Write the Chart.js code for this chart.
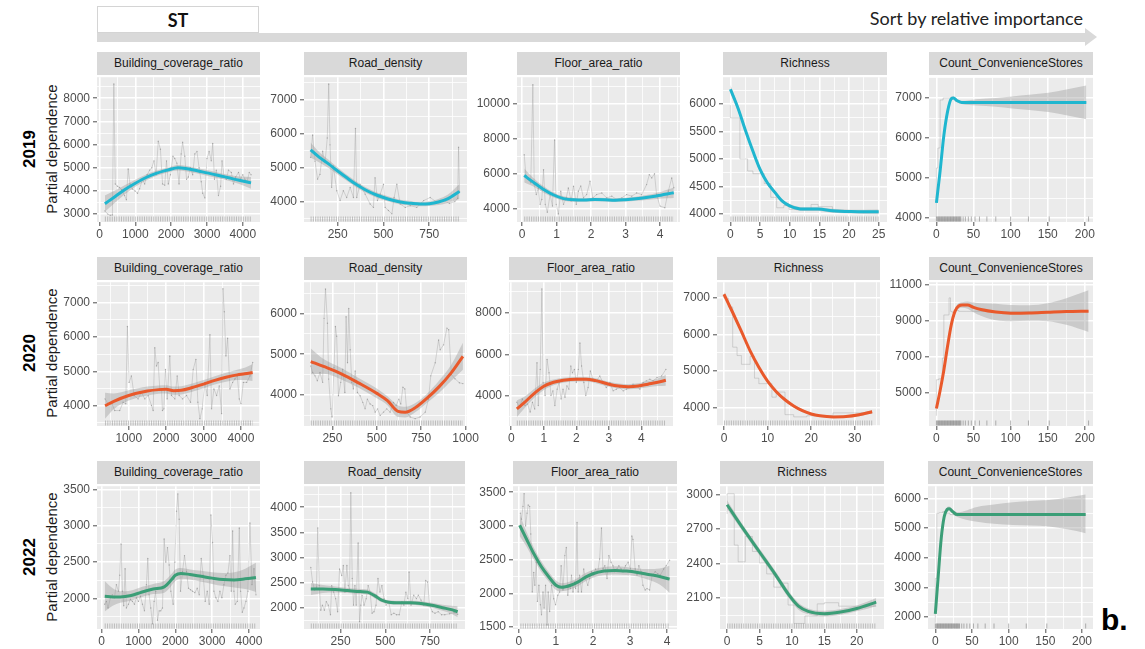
<!DOCTYPE html>
<html>
<head>
<meta charset="utf-8">
<script src="https://cdn.jsdelivr.net/npm/chart.js@4.4.1/dist/chart.umd.min.js"></script>
<style>
  body { margin: 0; background: #fff; width: 1145px; height: 649px; position: relative; overflow: hidden;
         font-family: "Liberation Sans", Arial, sans-serif; }
  .strip { position: absolute; height: 23px; line-height: 23px; background: #D9D9D9; color: #1A1A1A;
           font-size: 12px; text-align: center; white-space: nowrap; overflow: hidden; }
  .rot { position: absolute; transform: rotate(-90deg); text-align: center; white-space: nowrap; }
  .panel { position: absolute; }
</style>
</head>
<body>
<div style="position:absolute;left:97px;top:33px;width:988px;height:9px;background:#D9D9D9"></div>
<div style="position:absolute;left:1085px;top:28px;width:0;height:0;border-left:12px solid #D9D9D9;border-top:9.5px solid transparent;border-bottom:9.5px solid transparent"></div>
<div style="position:absolute;left:97px;top:6px;width:160px;height:25px;border:1px solid #D4D4D4;background:#fff;text-align:center;line-height:26px;font-family:Lato,sans-serif;font-weight:bold;font-size:18px;color:#111">ST</div>
<div style="position:absolute;right:62px;top:7px;font-family:Lato,sans-serif;font-size:18px;color:#222">Sort by relative importance</div>
<div style="position:absolute;left:1101px;top:603px;font-weight:bold;font-size:30px;color:#000">b.</div>

<script>
// ---- 데이터 : 원시 PD 선 [x, y], 평활선 [x, 하한, 적합, 상한] ----
const years = ["2019", "2020", "2022"];
const variables = ["Building_coverage_ratio", "Road_density", "Floor_area_ratio", "Richness", "Count_ConvenienceStores"];
const lineColors = ["#1FB6CF", "#E9592B", "#3B9E77"];

// 2019
const bcr19Raw = [[150,3140],[230,3000],[300,2950],[360,2960],[400,8620],[440,4300],[500,4200],[560,4150],[620,4050],[700,3800],
  [750,3620],[800,4950],[850,4300],[920,4080],[990,4000],[1060,3900],[1120,4100],[1200,4500],[1260,4300],[1330,4700],
  [1400,4900],[1460,5000],[1520,5300],[1580,4700],[1640,6150],[1700,5800],[1760,4300],[1820,4250],[1870,5300],[1920,4300],
  [1980,4700],[2050,5500],[2100,5400],[2160,5200],[2220,4300],[2280,5600],[2320,6100],[2380,5500],[2430,4500],[2480,4600],
  [2540,5000],[2600,4700],[2660,5600],[2720,5700],[2780,5000],[2840,4400],[2880,3900],[2940,3700],[3000,5400],[3060,5700],
  [3120,5300],[3160,6050],[3210,4500],[3260,4900],[3320,3800],[3380,4200],[3420,5300],[3480,4600],[3540,4500],[3600,4900],
  [3680,4800],[3740,4300],[3800,4600],[3880,4800],[3940,4500],[4000,4700],[4060,4500],[4120,4400],[4180,4800],[4230,4700]];
const bcr19Fit = [[150,3100,3450,3800],[400,3450,3720,4000],[700,3850,4050,4250],[1000,4180,4330,4480],[1300,4450,4580,4710],
  [1600,4660,4770,4880],[1900,4800,4900,5000],[2200,4880,5000,5120],[2400,4850,4970,5090],[2700,4760,4880,5000],
  [3000,4660,4780,4900],[3300,4560,4680,4800],[3600,4440,4570,4700],[3900,4300,4460,4620],[4230,4100,4350,4600]];
const road19Raw = [[102,5300],[113,5960],[126,5190],[140,4660],[153,4800],[168,5480],[181,5140],[193,5870],[201,7460],[208,5670],
  [217,4420],[226,5050],[245,4320],[263,4030],[281,4320],[299,4120],[318,4420],[336,4120],[347,6150],[354,4120],
  [372,4510],[400,4220],[427,3930],[445,3830],[454,4700],[467,4030],[482,4220],[500,4510],[509,3830],[527,3740],
  [546,3640],[558,4120],[573,4510],[591,3930],[619,3830],[646,3880],[682,3830],[719,4030],[755,4120],[792,3980],
  [828,4030],[860,3950],[890,4000],[905,4100],[910,5600],[915,4300]];
const road19Fit = [[102,5300,5520,5740],[150,5150,5300,5450],[200,4990,5110,5230],[250,4800,4900,5000],[300,4610,4700,4790],
  [350,4420,4510,4600],[400,4270,4350,4430],[450,4140,4220,4300],[500,4040,4120,4200],[550,3970,4040,4110],
  [600,3910,3980,4050],[650,3880,3950,4020],[700,3860,3930,4000],[750,3870,3940,4010],[800,3900,3990,4080],
  [850,3960,4080,4200],[915,4080,4300,4520]];
const far19Raw = [[0.06,7090],[0.11,5860],[0.18,5670],[0.25,5480],[0.31,11100],[0.35,5380],[0.41,4810],[0.47,5190],[0.52,4250],[0.57,4530],
  [0.62,6230],[0.67,4250],[0.73,3800],[0.81,4810],[0.88,4150],[0.94,7940],[0.99,4250],[1.05,3700],[1.12,5000],[1.2,4250],
  [1.28,4620],[1.34,5190],[1.42,4440],[1.49,5290],[1.57,4250],[1.63,5000],[1.7,5300],[1.78,4620],[1.87,4810],[1.97,5570],
  [2.05,4620],[2.16,4810],[2.31,4900],[2.45,4620],[2.6,4720],[2.74,4530],[2.89,4620],[3.03,4810],[3.18,4720],[3.32,4900],
  [3.47,4810],[3.61,5380],[3.69,5950],[3.76,5760],[3.84,6000],[3.9,4810],[4.0,4150],[4.14,4060],[4.24,5000],[4.34,5760],[4.4,5200]];
const far19Fit = [[0.06,5500,5900,6300],[0.3,5300,5550,5800],[0.6,4950,5130,5310],[0.9,4650,4800,4950],[1.2,4450,4580,4710],
  [1.5,4400,4510,4620],[1.8,4400,4500,4600],[2.1,4430,4530,4630],[2.4,4420,4520,4620],[2.7,4390,4490,4590],
  [3.0,4410,4520,4630],[3.3,4450,4570,4690],[3.6,4500,4640,4780],[3.9,4560,4730,4900],[4.2,4600,4840,5080],[4.4,4620,4920,5220]];
const rich19Raw = [[0,5980],[1.6,5750],[2.9,5000],[3.8,4780],[5.7,4730],[6.8,4550],[7.8,4300],[9,4110],[9.9,4150],
  [13.6,4080],[14.8,4170],[17.2,4130],[18.8,4040],[20.9,4035],[25,4035]];
const rich19Fit = [[0,6190,6270,6350],[1.3,5860,5920,5980],[2.6,5450,5500,5550],[3.8,5100,5140,5180],[5,4770,4810,4850],
  [6.2,4530,4570,4610],[7.5,4350,4390,4430],[8.7,4200,4235,4270],[10,4110,4145,4180],[12.3,4050,4085,4120],
  [14.8,4050,4085,4120],[17.2,4020,4055,4090],[20.3,4005,4040,4075],[25,3990,4035,4080]];
const store19Raw = [[0,4000],[2,5250],[5,5750],[9,6950],[20,7000],[25,6980],[30,6920],[40,6890],[202,6890]];
const store19Fit = [[0,4300,4380,4460],[5,5100,5180,5260],[10,5980,6060,6140],[15,6600,6660,6720],[20,6930,6980,7030],
  [23,6960,7000,7040],[28,6890,6930,6970],[34,6850,6890,6930],[54,6810,6890,6970],[80,6780,6890,7000],
  [102,6740,6890,7040],[125,6700,6890,7080],[151,6650,6890,7130],[175,6570,6890,7210],[202,6470,6890,7310]];

// 2020
const bcr20Raw = [[366,4200],[446,4060],[536,4100],[625,3860],[759,3860],[848,4100],[920,4060],[964,6310],[1009,4680],[1071,4870],
  [1143,4300],[1250,4200],[1339,4390],[1429,4200],[1518,4300],[1607,4010],[1652,3860],[1696,5690],[1741,5160],[1786,5260],
  [1830,4490],[1875,4490],[1902,3860],[1938,3910],[1982,5060],[2027,4200],[2098,5450],[2143,4300],[2232,4200],[2295,4870],
  [2348,4300],[2438,4200],[2545,4300],[2652,4100],[2723,5060],[2795,5350],[2848,4100],[2902,3620],[2964,3910],[3036,4680],
  [3098,4300],[3170,6070],[3214,3910],[3277,4490],[3348,4300],[3420,4580],[3482,3770],[3518,7410],[3554,6740],[3598,5450],
  [3643,5970],[3705,4490],[3777,4680],[3839,4780],[3902,4870],[3955,4200],[4000,4060],[4063,4680],[4152,4680],[4241,4870],[4313,5260]];
const bcr20Fit = [[366,3620,4000,4380],[600,3900,4130,4360],[1000,4150,4300,4450],[1500,4300,4430,4560],[1800,4350,4470,4590],
  [2000,4360,4480,4600],[2200,4320,4440,4560],[2400,4330,4450,4570],[2700,4410,4530,4650],[3000,4510,4630,4750],
  [3300,4620,4740,4860],[3600,4700,4830,4960],[3900,4750,4900,5050],[4100,4750,4930,5110],[4313,4720,4970,5220]];
const road20Raw = [[128,4710],[139,4550],[152,4470],[165,4350],[180,4550],[195,4310],[203,5880],[211,6600],[222,5760],[229,4390],
  [241,3660],[248,3460],[259,4670],[267,5680],[274,5440],[284,3980],[297,4310],[308,4630],[320,4060],[327,5920],
  [335,4790],[342,6120],[350,5110],[359,4310],[368,4150],[378,4590],[391,4060],[406,3980],[421,3820],[434,3660],
  [447,3900],[462,3780],[477,3740],[491,3580],[504,3660],[519,3500],[538,3580],[556,3660],[575,3580],[594,3820],
  [609,3740],[624,3900],[635,3780],[647,4190],[658,4150],[669,3580],[688,3460],[716,3420],[744,3460],[773,3580],
  [791,3900],[804,4470],[829,4790],[848,5350],[857,5110],[876,5230],[895,5640],[905,5600],[920,4500],[940,4400],[965,4300],[985,4280]];
const road20Fit = [[128,4500,4820,5140],[200,4520,4700,4880],[300,4380,4520,4660],[400,4170,4290,4410],[500,3920,4040,4160],
  [560,3750,3860,3970],[620,3460,3600,3740],[660,3450,3580,3710],[720,3590,3700,3810],[780,3800,3910,4020],
  [850,4050,4200,4350],[920,4350,4550,4750],[985,4620,4950,5280]];
const far20Raw = [[0.17,3700],[0.26,3460],[0.34,3860],[0.42,3540],[0.5,3620],[0.58,3230],[0.65,3700],[0.72,3380],[0.79,5600],[0.83,3540],
  [0.89,5280],[0.94,9150],[0.98,4650],[1.04,4020],[1.1,5760],[1.16,5120],[1.22,4020],[1.28,4250],[1.34,3540],[1.41,4330],
  [1.47,4650],[1.53,3860],[1.59,4330],[1.65,3940],[1.71,4490],[1.77,4330],[1.83,5440],[1.88,5120],[1.94,5280],[2.0,4650],
  [2.06,5280],[2.11,6550],[2.16,5440],[2.23,4650],[2.29,4020],[2.36,4410],[2.43,5200],[2.51,4810],[2.62,4730],[2.72,4960],
  [2.82,4650],[2.92,4410],[3.03,4650],[3.13,4250],[3.23,4330],[3.33,4410],[3.44,4250],[3.54,4330],[3.64,4410],[3.74,4570],
  [3.85,4490],[3.95,4330],[4.05,4650],[4.15,4730],[4.26,4810],[4.36,4730],[4.48,4890],[4.62,4960],[4.75,5280]];
const far20Fit = [[0.17,2980,3380,3780],[0.4,3400,3680,3960],[0.7,3900,4120,4340],[1.0,4290,4470,4650],[1.3,4520,4660,4800],
  [1.6,4640,4760,4880],[2.0,4700,4810,4920],[2.3,4700,4810,4920],[2.6,4620,4740,4860],[3.0,4450,4570,4690],
  [3.3,4360,4480,4600],[3.6,4330,4450,4570],[3.9,4350,4480,4610],[4.2,4420,4570,4720],[4.5,4480,4660,4840],[4.75,4500,4760,5020]];
const rich20Raw = [[0,7100],[1,7000],[2,6750],[3,5650],[4,5420],[6,5180],[7,5400],[8,4800],[11,4650],[12,4280],
  [14,4420],[16,3800],[19,3740],[25,3770],[30,3850],[34,3850]];
const rich20Fit = [[0,7040,7100,7160],[2,6550,6600,6650],[4,6030,6080,6130],[6,5510,5550,5590],[8,5060,5100,5140],
  [10,4680,4720,4760],[12,4390,4430,4470],[14,4170,4210,4250],[16,4000,4040,4080],[18,3870,3910,3950],
  [20,3790,3820,3850],[22,3740,3770,3800],[25,3710,3740,3770],[28,3720,3750,3780],[31,3760,3800,3840],[34,3830,3880,3930]];
const store20Raw = [[0,3700],[3,5700],[8,5750],[10,6900],[17,9300],[19,10250],[21,9500],[25,9450],[30,9550],[40,9500],[205,9500]];
const store20Fit = [[0,3900,4100,4300],[5,4900,5100,5300],[10,6050,6230,6410],[15,7400,7560,7720],[20,8600,8750,8900],
  [25,9350,9500,9650],[30,9650,9800,9950],[35,9700,9850,10000],[42,9650,9850,10050],[50,9450,9720,9990],
  [60,9250,9600,9950],[80,9000,9460,9920],[100,8950,9400,9850],[125,8980,9410,9840],[150,8950,9450,9950],
  [175,8750,9490,10230],[205,8350,9510,10670]];

// 2022
const bcr22Raw = [[82,1920],[127,1960],[172,1870],[236,2010],[290,2050],[345,2010],[399,2190],[454,2100],[490,2320],[526,2750],
  [562,2100],[599,1900],[635,2410],[671,1870],[726,1920],[780,1990],[834,1960],[889,1920],[943,2010],[998,1960],
  [1052,2030],[1107,1920],[1161,1830],[1215,2190],[1252,2550],[1288,2050],[1333,1870],[1379,1650],[1424,1960],[1469,2100],
  [1515,1700],[1560,1830],[1605,1830],[1651,1870],[1696,2820],[1741,2500],[1787,2700],[1832,2460],[1878,2100],[1941,1920],
  [1986,2500],[2032,3200],[2068,3440],[2104,3090],[2141,2100],[2195,2370],[2249,2590],[2304,2370],[2358,2140],[2413,2120],
  [2467,2100],[2531,2080],[2594,2140],[2649,2050],[2703,2550],[2757,2320],[2812,1960],[2866,2100],[2921,1920],[2966,3150],
  [3011,2770],[3048,2100],[3102,2010],[3156,1960],[3211,2100],[3265,2010],[3320,2190],[3374,2320],[3429,2350],[3483,2590],
  [3519,2100],[3556,2930],[3592,2100],[3628,1920],[3683,1960],[3737,2970],[3773,2100],[3819,1810],[3864,1870],[3918,1960],
  [3973,2100],[4027,3040],[4082,2190],[4136,2410],[4190,2050]];
const bcr22Fit = [[82,1820,2030,2240],[300,1900,2020,2140],[500,1940,2020,2100],[800,1970,2040,2110],[1100,2020,2090,2160],
  [1400,2060,2130,2200],[1700,2080,2160,2240],[1900,2180,2260,2340],[2000,2240,2320,2400],[2150,2270,2345,2420],
  [2400,2260,2330,2400],[2700,2230,2305,2380],[3000,2200,2280,2360],[3300,2170,2260,2350],[3600,2150,2255,2360],
  [3900,2130,2270,2410],[4190,2090,2290,2490]];
const road22Raw = [[83,2800],[93,2510],[104,2350],[115,2410],[122,3590],[130,2440],[139,1950],[148,2050],[159,1950],[170,2120],
  [181,2050],[193,1860],[200,2440],[211,2310],[222,2180],[233,1920],[244,2770],[256,2640],[265,2840],[274,2310],
  [285,2840],[293,2440],[300,2350],[307,4290],[315,2580],[322,2050],[330,2440],[337,2050],[348,3290],[356,1720],
  [363,2050],[370,2250],[381,2050],[393,2180],[404,2440],[415,2310],[426,1890],[437,1920],[448,2050],[459,2580],
  [470,2310],[481,2440],[493,2180],[504,2050],[519,2120],[533,1860],[548,1890],[563,1860],[578,1860],[593,2120],
  [604,2050],[615,2310],[626,2180],[633,2710],[644,2050],[659,2250],[674,2180],[685,2250],[700,2150],[715,2050],
  [726,2540],[737,2510],[748,2050],[763,1920],[778,1890],[796,1920],[815,1860],[833,1860],[860,1880],[885,1900],[905,1870]];
const road22Fit = [[83,2250,2370,2490],[150,2290,2370,2450],[220,2300,2360,2420],[290,2290,2340,2390],[360,2270,2320,2370],
  [400,2260,2310,2360],[440,2190,2240,2290],[480,2110,2150,2190],[520,2070,2110,2150],[580,2060,2100,2140],
  [640,2060,2100,2140],[700,2040,2085,2130],[760,2000,2050,2100],[820,1940,2000,2060],[870,1880,1960,2040],[905,1810,1920,2030]];
const far22Raw = [[0.04,3190],[0.07,3100],[0.11,3290],[0.14,3480],[0.18,3000],[0.22,3190],[0.25,3310],[0.29,3290],[0.32,2880],[0.36,2020],
  [0.4,2310],[0.43,2120],[0.47,2460],[0.5,1880],[0.54,2120],[0.58,1830],[0.61,1680],[0.65,2020],[0.68,1780],[0.72,2120],
  [0.76,1530],[0.79,2020],[0.83,1730],[0.88,2120],[0.94,1920],[0.99,1830],[1.05,1970],[1.1,2020],[1.14,2410],[1.19,2050],
  [1.24,2560],[1.28,2680],[1.32,1970],[1.35,2120],[1.39,2070],[1.42,2270],[1.46,2020],[1.5,2170],[1.53,2070],[1.57,3050],
  [1.6,2020],[1.64,2270],[1.69,2020],[1.75,2360],[1.8,2220],[1.86,2120],[1.91,2220],[1.96,2320],[2.02,2270],[2.07,2360],
  [2.13,2320],[2.18,2510],[2.23,2970],[2.27,2360],[2.32,2410],[2.38,2220],[2.43,2560],[2.49,2460],[2.54,2410],[2.59,2320],
  [2.65,2360],[2.7,2410],[2.76,2360],[2.81,2320],[2.88,2410],[2.95,2460],[3.01,2360],[3.05,2850],[3.08,2800],[3.14,2360],
  [3.19,2270],[3.24,2410],[3.3,2320],[3.35,2120],[3.41,2050],[3.46,2070],[3.53,2050],[3.6,2270],[3.68,2320],[3.75,2290],
  [3.82,2270],[3.91,2360],[3.98,2410],[4.07,2490]];
const far22Fit = [[0.02,2850,3010,3170],[0.2,2700,2810,2920],[0.4,2500,2590,2680],[0.6,2320,2400,2480],[0.8,2180,2250,2320],
  [1.0,2050,2120,2190],[1.15,2030,2090,2150],[1.4,2060,2120,2180],[1.6,2110,2170,2230],[1.8,2180,2240,2300],
  [2.0,2230,2290,2350],[2.3,2270,2330,2390],[2.6,2280,2340,2400],[2.9,2270,2330,2390],[3.2,2250,2310,2370],
  [3.5,2200,2280,2360],[3.8,2130,2250,2370],[4.07,2010,2210,2410]];
const rich22Raw = [[0,2830],[1.1,3005],[1.7,2560],[2.8,2415],[3.9,2635],[5,2505],[6.1,2405],[7.2,2310],[8.3,2195],[9.4,2230],
  [10.3,2040],[12,1880],[13.9,1945],[15,2050],[17.2,2060],[19.4,2030],[23,2030]];
const rich22Fit = [[0,2870,2910,2950],[2.5,2670,2700,2730],[5,2470,2500,2530],[7.5,2270,2300,2330],[9.5,2100,2130,2160],
  [11,2000,2030,2060],[12.5,1960,1985,2010],[15,1940,1965,1990],[17.5,1955,1980,2005],[20,1985,2010,2035],[23,2030,2065,2100]];
const store22Raw = [[0,1800],[2,3300],[5,5500],[10,5520],[15,5560],[20,5500],[25,5460],[30,5450],[205,5450]];
const store22Fit = [[0,1980,2100,2220],[4,3300,3400,3500],[8,4550,4650,4750],[12,5300,5380,5460],[16,5560,5630,5700],
  [19,5590,5660,5730],[24,5480,5550,5620],[30,5380,5460,5540],[57,5220,5460,5720],[80,5150,5460,5800],
  [106,5110,5460,5880],[130,5090,5460,5920],[155,5060,5460,5950],[180,4960,5460,6040],[205,4830,5460,6140]];

// 편의점 수 rug 위치
const storeRug = [0,1,2,3,4,5,6,7,8,9,10,11,12,13,14,15,16,17,18,19,20,21,22,23,24,25,26,27,28,29,30,31,32,33,
  36,39,43,47,52,58,68,80,100,124,152,205];

// 축 눈금 (주 눈금)
const xTicks = [
  [[0,1000,2000,3000,4000], [250,500,750], [0,1,2,3,4], [0,5,10,15,20,25], [0,50,100,150,200]],
  [[1000,2000,3000,4000], [250,500,750,1000], [0,1,2,3,4], [0,10,20,30], [0,50,100,150,200]],
  [[0,1000,2000,3000,4000], [250,500,750], [0,1,2,3,4], [0,5,10,15,20], [0,50,100,150,200]]
];
const yTicks = [
  [[3000,4000,5000,6000,7000,8000], [4000,5000,6000,7000], [4000,6000,8000,10000], [4000,4500,5000,5500,6000], [4000,5000,6000,7000]],
  [[4000,5000,6000,7000], [4000,5000,6000], [4000,6000,8000], [4000,5000,6000,7000], [5000,7000,9000,11000]],
  [[2000,2500,3000,3500], [2000,2500,3000,3500,4000], [1500,2000,2500,3000,3500], [2100,2400,2700,3000], [2000,3000,4000,5000,6000]]
];
// 축 범위
const xLims = [
  [[-70,4480], [66,956], [-0.15,4.58], [-1.25,26.4], [-10,211]],
  [[151,4509], [90,1008], [-0.07,4.97], [-1.6,35.8], [-10,211]],
  [[-128,4300], [45,946], [-0.16,4.27], [-1.1,24.2], [-10,215]]
];
const yLims = [
  [[2660,8910], [3400,7660], [3240,11530], [3850,6490], [3900,7520]],
  [[3410,7600], [3240,6766], [2560,9470], [3490,7430], [3130,11120]],
  [[1580,3545], [1575,4420], [1470,3590], [1832,3071], [1590,6420]]
];

const rawSets = [
  [bcr19Raw, road19Raw, far19Raw, rich19Raw, store19Raw],
  [bcr20Raw, road20Raw, far20Raw, rich20Raw, store20Raw],
  [bcr22Raw, road22Raw, far22Raw, rich22Raw, store22Raw]
];
const fitSets = [
  [bcr19Fit, road19Fit, far19Fit, rich19Fit, store19Fit],
  [bcr20Fit, road20Fit, far20Fit, rich20Fit, store20Fit],
  [bcr22Fit, road22Fit, far22Fit, rich22Fit, store22Fit]
];

// ---- 배치 ----
const YW = 50, XH = 20, PADT = 8, PADR = 24, STRIP_H = 23;
const rowBox = [[75, 222], [280, 426], [484, 629]];
const colBox = [
  [[97,260],[304,467],[517,680],[723,887],[929,1093]],
  [[97,260],[304,467],[509,673],[717,880],[929,1093]],
  [[97,260],[304,465],[513,677],[720,884],[928,1093]]
];

// 패널 배경
const panelBg = {
  id: "panelBg",
  beforeDraw(chart) {
    const { ctx, chartArea: a } = chart;
    ctx.save();
    ctx.fillStyle = "#EBEBEB";
    ctx.fillRect(a.left, a.top, a.width, a.height);
    ctx.restore();
  }
};

// 아래쪽 rug
const rugPlugin = {
  id: "rug",
  beforeDatasetsDraw(chart, args, opts) {
    const { ctx, chartArea: a } = chart;
    const xs = chart.scales.x;
    ctx.save();
    if (opts.values) {
      ctx.strokeStyle = "rgba(120,120,120,0.7)";
      ctx.lineWidth = 0.8;
      ctx.beginPath();
      opts.values.forEach((v) => {
        const px = xs.getPixelForValue(v);
        ctx.moveTo(px, a.bottom - 0.5);
        ctx.lineTo(px, a.bottom - 5.5);
      });
      ctx.stroke();
    } else {
      const x0 = xs.getPixelForValue(opts.from);
      const x1 = xs.getPixelForValue(opts.to);
      ctx.strokeStyle = "rgba(140,140,140,0.5)";
      ctx.lineWidth = 5;
      ctx.setLineDash([1, 1.3]);
      ctx.beginPath();
      ctx.moveTo(x0, a.bottom - 3);
      ctx.lineTo(x1, a.bottom - 3);
      ctx.stroke();
    }
    ctx.restore();
  }
};

function withMinors(majors, lo, hi) {
  const step = majors[1] - majors[0];
  const out = [];
  if (majors[0] - step / 2 >= lo) out.push(majors[0] - step / 2);
  majors.forEach((m, i) => {
    out.push(m);
    if (i < majors.length - 1) out.push(m + step / 2);
  });
  if (majors[majors.length - 1] + step / 2 <= hi) out.push(majors[majors.length - 1] + step / 2);
  return out;
}

function axisOpts(majors, lim, isX) {
  const all = withMinors(majors, lim[0], lim[1]);
  const isMajor = (v) => majors.some((m) => Math.abs(m - v) < 1e-9);
  return {
    type: "linear",
    min: lim[0],
    max: lim[1],
    bounds: "data",
    afterBuildTicks: (scale) => { scale.ticks = all.map((v) => ({ value: v })); },
    afterFit: (scale) => { if (isX) scale.height = XH; else scale.width = YW; },
    border: { display: false },
    grid: {
      color: "#FFFFFF",
      lineWidth: (c) => (c.tick && isMajor(c.tick.value) ? 1.6 : 0.8),
      drawTicks: true,
      tickLength: 4,
      tickWidth: 1,
      tickColor: (c) => (c.tick && isMajor(c.tick.value) ? "#4D4D4D" : "rgba(0,0,0,0)")
    },
    ticks: {
      autoSkip: false,
      maxRotation: 0,
      minRotation: 0,
      padding: isX ? 1 : 3,
      color: "#4D4D4D",
      font: { family: "Liberation Sans", size: 12 },
      callback: (v) => (isMajor(v) ? String(v) : "")
    }
  };
}

function makePanel(r, c) {
  const [left, right] = colBox[r][c];
  const [top, bottom] = rowBox[r];

  // 스트립
  const strip = document.createElement("div");
  strip.className = "strip";
  strip.style.left = left + "px";
  strip.style.top = (top - STRIP_H) + "px";
  strip.style.width = (right - left) + "px";
  strip.textContent = variables[c];
  document.body.appendChild(strip);

  const wrap = document.createElement("div");
  wrap.className = "panel";
  const w = right - left + YW + PADR;
  const h = bottom - top + XH + PADT;
  wrap.style.left = (left - YW) + "px";
  wrap.style.top = (top - PADT) + "px";
  const cv = document.createElement("canvas");
  cv.width = w;
  cv.height = h;
  wrap.appendChild(cv);
  document.body.appendChild(wrap);

  const raw = rawSets[r][c];
  const fit = fitSets[r][c];
  const stepped = c >= 3;
  const rugOpts = c === 4 ? { values: storeRug } : { from: raw[0][0], to: raw[raw.length - 1][0] };

  new Chart(cv, {
    type: "line",
    data: {
      datasets: [
        {
          data: fit.map((p) => ({ x: p[0], y: p[2] })),
          borderColor: lineColors[r],
          borderWidth: 3,
          pointRadius: 0,
          cubicInterpolationMode: "monotone",
          fill: false,
          order: 0
        },
        {
          data: fit.map((p) => ({ x: p[0], y: p[3] })),
          borderColor: "rgba(0,0,0,0)",
          borderWidth: 1,
          pointRadius: 0,
          cubicInterpolationMode: "monotone",
          backgroundColor: "rgba(153,153,153,0.4)",
          fill: "+1",
          order: 1
        },
        {
          data: fit.map((p) => ({ x: p[0], y: p[1] })),
          borderColor: "rgba(0,0,0,0)",
          borderWidth: 1,
          pointRadius: 0,
          cubicInterpolationMode: "monotone",
          fill: false,
          order: 1
        },
        {
          data: raw.map((p) => ({ x: p[0], y: p[1] })),
          borderColor: "rgba(150,150,150,0.6)",
          borderWidth: 0.6,
          stepped: stepped ? "after" : false,
          tension: 0,
          pointRadius: stepped ? 0 : 0.7,
          pointBorderWidth: 0,
          pointBackgroundColor: "rgba(110,110,110,0.45)",
          fill: false,
          order: 2
        }
      ]
    },
    options: {
      responsive: false,
      animation: false,
      events: [],
      layout: { padding: { top: PADT, right: PADR, left: 0, bottom: 0 } },
      plugins: {
        legend: { display: false },
        tooltip: { enabled: false },
        rug: rugOpts
      },
      scales: {
        x: axisOpts(xTicks[r][c], xLims[r][c], true),
        y: axisOpts(yTicks[r][c], yLims[r][c], false)
      }
    },
    plugins: [panelBg, rugPlugin]
  });
}

// 행 라벨
years.forEach((yr, r) => {
  const cy = (rowBox[r][0] + rowBox[r][1]) / 2;
  const a = document.createElement("div");
  a.className = "rot";
  a.style.cssText += `left:${30 - 60}px;top:${cy - 11}px;width:120px;height:22px;line-height:22px;font-weight:bold;font-size:17px;color:#000`;
  a.textContent = yr;
  document.body.appendChild(a);
  const b = document.createElement("div");
  b.className = "rot";
  b.style.cssText += `left:${52 - 80}px;top:${cy - 9}px;width:160px;height:18px;line-height:18px;font-size:15px;color:#1A1A1A`;
  b.textContent = "Partial dependence";
  document.body.appendChild(b);
});

for (let r = 0; r < 3; r++) {
  for (let c = 0; c < 5; c++) makePanel(r, c);
}
</script>
</body>
</html>
